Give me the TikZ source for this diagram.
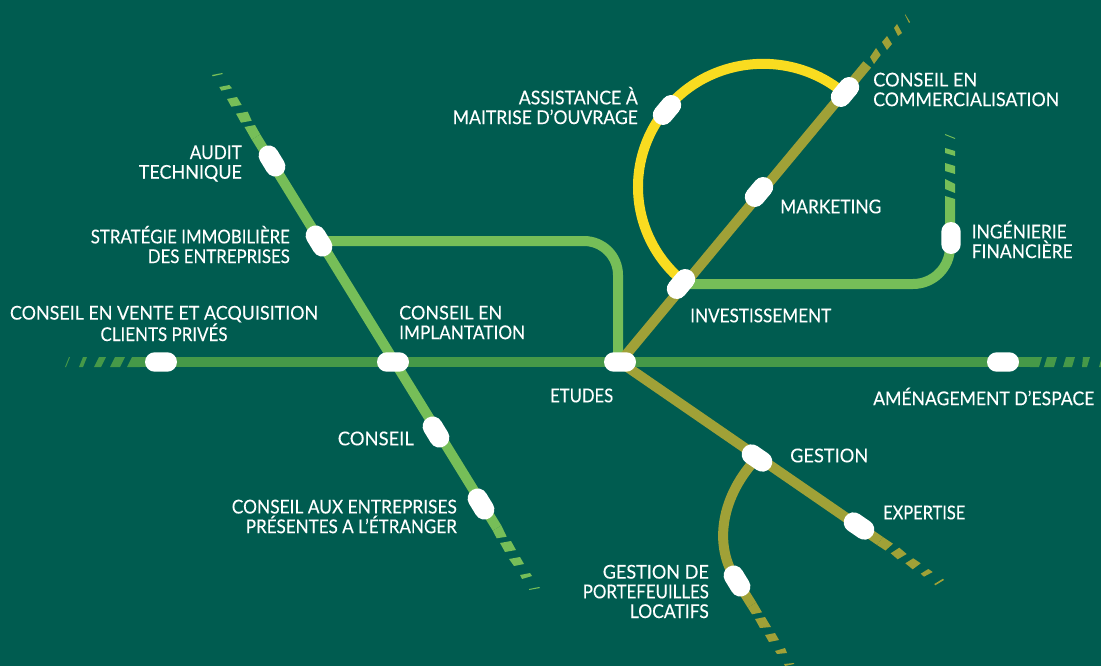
\documentclass[tikz,border=0pt]{standalone}
\usepackage{fontspec}
\usepackage{graphicx}
\usetikzlibrary{backgrounds}
\setmainfont{Lato}
\definecolor{bgc}{RGB}{0,92,80}
\definecolor{lime}{RGB}{118,190,88}
\definecolor{deep}{RGB}{70,153,72}
\definecolor{olive}{RGB}{160,161,55}
\definecolor{sun}{RGB}{249,220,32}
\newcommand\fw[2]{\resizebox{#1pt}{\height}{#2}}
\tikzset{
  track/.style={line width=10pt},
  tail/.style={fill=#1,draw=none},
  station/.style={fill=white,draw=none,rounded corners=9.7pt,minimum width=32pt,minimum height=19.4pt,inner sep=0pt},
  tilted/.style={station,rounded corners=10pt,minimum width=33pt,minimum height=20pt,rotate=#1},
  lab/.style={text=white,inner sep=0pt,yshift=-0.5pt,font=\fontsize{19}{19.7}\selectfont\addfontfeature{FakeBold=0.15}}
}
\begin{document}
\begin{tikzpicture}[x=1pt,y=-1pt]
\useasboundingbox (0,0) rectangle (1101,666);
% stations
\path
 (272,161) node[tilted=-58.5] (audit) {}
 (319,241) node[tilted=-58.5] (strat) {}
 (161,362) node[station] (vente) {}
 (393,362) node[station] (impl) {}
 (436,432) node[tilted=-58.5] (cons) {}
 (481,504) node[tilted=-58.5] (etr) {}
 (620,362) node[station] (etud) {}
 (1003,362) node[station] (amen) {}
 (681,284) node[tilted=50] (inv) {}
 (759,192) node[tilted=50] (mark) {}
 (845,92) node[tilted=50] (comm) {}
 (667,110) node[tilted=50] (assi) {}
 (951,238) node[station,rotate=90] (inge) {}
 (757,458) node[tilted=-34.5] (gest) {}
 (859,526) node[tilted=-34.5] (expe) {}
 (737,581) node[tilted=-58.5] (port) {};
\coordinate (a0) at (256,137);
\coordinate (a1) at (497,528);
\coordinate (h0) at (140,362);
\coordinate (h1) at (1030,362);
\coordinate (o1) at (867.2,64.5);
\coordinate (e1) at (880,541);
\coordinate (p1) at (752,605);
\coordinate (f1) at (950,205);
\begin{scope}[on background layer]
\fill[bgc] (0,0) rectangle (1101,666);
% tracks
\draw[track,sun] (845,94) arc[start angle=-49,end angle=-230,x radius=125,y radius=123];
\draw[track,lime,rounded corners=34pt] (strat.center) -- (618,241) -- (618,362);
\draw[track,lime,rounded corners=37pt] (inv.center) -- (950,284) -- (f1);
\draw[track,olive] (etud.center) -- (o1);
\draw[track,olive] (etud.center) -- (e1);
\draw[track,olive] (gest.center) .. controls (722,495) and (712,545) .. (port.center) -- (p1);
\draw[track,lime] (a0) -- (a1);
\draw[track,deep] (h0) -- (h1);
% tails
\foreach \c/\p in {
 lime/{(212,75)--(222.3,73)--(222.7,74)--(212.7,76.3)},
 lime/{(219.3,87)--(229.3,85)--(232,88.3)--(221.3,90.7)},
 lime/{(227,99)--(237,97)--(241.7,105)--(231.3,106.7)},
 lime/{(236,113.7)--(247.7,111.7)--(251.7,120.7)--(241,122.7)},
 lime/{(244.5,127)--(255,125)--(260.3,134.4)--(251.7,139.6)},
 lime/{(492.7,530.6)--(501.3,525.4)--(506.7,536.7)--(496.7,538.3)},
 lime/{(500,543)--(511,541)--(516,550)--(505,552)},
 lime/{(509,559)--(520,557)--(524,564)--(514,566)},
 lime/{(520,575)--(530,573)--(532,576)--(522,579)},
 lime/{(529,589)--(539,587)--(540,588)--(529,590)},
 deep/{(65,367)--(69,357)--(70,357)--(66,367)},
 deep/{(79,367)--(83,357)--(87,357)--(83,367)},
 deep/{(94,367)--(99,357)--(106,357)--(101,367)},
 deep/{(110,367)--(115,357)--(125,357)--(120,367)},
 deep/{(127,367)--(132,357)--(140,357)--(140,367)},
 deep/{(1030,357)--(1042,357)--(1039,367)--(1030,367)},
 deep/{(1047,357)--(1057,357)--(1054,367)--(1044,367)},
 deep/{(1066,357)--(1075,357)--(1072,367)--(1063,367)},
 deep/{(1083,357)--(1090,357)--(1087,367)--(1082,367)},
 deep/{(1099,367)--(1101,367)--(1101,360)},
 lime/{(945,196)--(955,199)--(955,205)--(945,205)},
 lime/{(945,179)--(955,184)--(955,193)--(945,189)},
 lime/{(945,163)--(955,166)--(955,174)--(945,171)},
 lime/{(945,148)--(955,151)--(955,156)--(945,153)},
 lime/{(945,134)--(955,138)--(955,139)--(945,135)},
 olive/{(876,48)--(880.7,55)--(874,64)--(870,57)},
 olive/{(887,36)--(892,44)--(887,50)--(882,42)},
 olive/{(897,24)--(902,33)--(898,36)--(894,28)},
 olive/{(905,14)--(910,22)--(909,23)--(905,15)},
 olive/{(893,543.7)--(885.5,550.5)--(877.2,545.1)--(882.8,536.9)},
 olive/{(899.3,547.7)--(906.7,554)--(897.7,559.3)--(890.7,553.3)},
 olive/{(913.3,558.3)--(920.7,563.3)--(912.7,569.3)--(905.3,563.3)},
 olive/{(928.3,569)--(932.7,572)--(924,576.7)--(920.7,573.7)},
 olive/{(943,578.7)--(944,580)--(935.3,585.3)--(934.3,584)},
 olive/{(747.8,607.6)--(756.2,602.4)--(762,612.3)--(752,614.3)},
 olive/{(755,619)--(765,617)--(771,627)--(760,628)},
 olive/{(765,635)--(775,633)--(779,640)--(769,642)},
 olive/{(775,651)--(785,648)--(787,653)--(777,654)},
 olive/{(784,664)--(794,663)--(794,664)--(785,666)}
}{\fill[tail=\c] \p -- cycle;}
\end{scope}
% labels
\node[lab,align=right,anchor=east] (l1) at (242,163) {\fw{52}{AUDIT}\\\fw{103}{TECHNIQUE}};
\node[lab,align=right,anchor=east] (l2) at (290,244) {\fw{199}{STRATÉGIE IMMOBILIÈRE}\\\fw{142}{DES ENTREPRISES}};
\node[lab,align=center] (l3) at (164,323) {\fw{308}{CONSEIL EN VENTE ET ACQUISITION}\\\fw{127}{CLIENTS PRIVÉS}};
\node[lab,align=left,anchor=west] (l4) at (399,322) {\fw{103}{CONSEIL EN}\\\fw{126}{IMPLANTATION}};
\node[lab,anchor=east] (l5) at (414,438) {\fw{76}{CONSEIL}};
\node[lab,align=right,anchor=east] (l6) at (457,516) {\fw{225}{CONSEIL AUX ENTREPRISES}\\\fw{211}{PRÉSENTES A L’ÉTRANGER}};
\node[lab,anchor=west] (l7) at (550,395) {\fw{63}{ETUDES}};
\node[lab,anchor=west] (l8) at (873,396) {\fw{221}{AMÉNAGEMENT D’ESPACE}};
\node[lab,anchor=west] (l9) at (790,455) {\fw{78}{GESTION}};
\node[lab,anchor=west] (l10) at (883,512) {\fw{82}{EXPERTISE}};
\node[lab,align=right,anchor=east] (l11) at (709,591) {\fw{106}{GESTION DE}\\\fw{126}{PORTEFEUILLES}\\\fw{79}{LOCATIFS}};
\node[lab,anchor=west] (l12) at (690,315) {\fw{141}{INVESTISSEMENT}};
\node[lab,anchor=west] (l13) at (780,206) {\fw{101}{MARKETING}};
\node[lab,align=left,anchor=west] (l14) at (971.5,239) {\fw{95}{INGÉNIERIE}\\\fw{101}{FINANCIÈRE}};
\node[lab,align=left,anchor=west] (l15) at (873,89) {\fw{104}{CONSEIL EN}\\\fw{186}{COMMERCIALISATION}};
\node[lab,align=right,anchor=east] (l16) at (638,105) {\fw{119}{ASSISTANCE À}\\\fw{185}{MAITRISE D’OUVRAGE}};
\end{tikzpicture}
\end{document}
